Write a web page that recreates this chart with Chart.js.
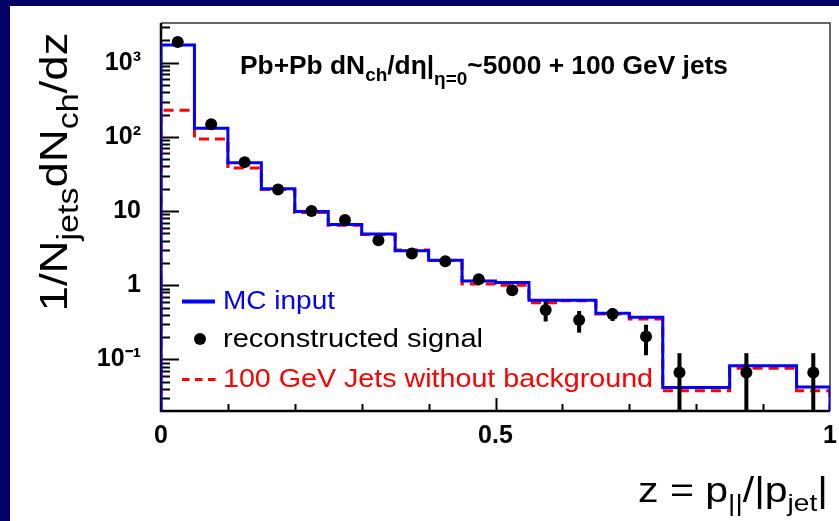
<!DOCTYPE html>
<html>
<head>
<meta charset="utf-8">
<script src="https://cdn.jsdelivr.net/npm/chart.js@4.4.1/dist/chart.umd.min.js"></script>
<style>
  html, body { margin: 0; padding: 0; background: #ffffff; }
  #wrap { width: 839px; height: 521px; }
</style>
</head>
<body>
<div id="wrap"><canvas id="c" width="839" height="521"></canvas></div>
<script>
// ---------------- data ----------------
const binEdges = [0, 0.05, 0.1, 0.15, 0.2, 0.25, 0.3, 0.35, 0.4, 0.45, 0.5,
                  0.55, 0.6, 0.65, 0.7, 0.75, 0.8, 0.85, 0.9, 0.95, 1.0];
const mcInput = [1730, 131, 45, 20.0, 9.9, 6.6, 4.9, 2.91, 2.18, 1.14,
                 1.09, 0.63, 0.63, 0.42, 0.37, 0.042, 0.042, 0.082, 0.082, 0.0426];
const jetsNoBackground = [228, 94, 38, 19.5, 9.55, 6.45, 4.85, 3.0, 2.15, 1.04,
                          1.0, 0.58, 0.62, 0.41, 0.35, 0.038, 0.038, 0.076, 0.076, 0.038];
const recoZ = [0.025, 0.075, 0.125, 0.175, 0.225, 0.275, 0.325, 0.375, 0.425, 0.475,
               0.525, 0.575, 0.625, 0.675, 0.725, 0.775, 0.875, 0.975];
const recoValues = [1900, 148, 45.7, 19.6, 10.0, 7.6, 4.05, 2.69, 2.11, 1.21,
                    0.86, 0.465, 0.34, 0.41, 0.204, 0.0665, 0.0665, 0.0665];
const recoErrors = [40, 5, 1.5, 0.6, 0.3, 0.25, 0.15, 0.1, 0.08, 0.06,
                    0.1, 0.14, 0.11, 0.08, 0.09, 0.055, 0.055, 0.055];
const xTickValues = [0, 0.5, 1];
const yTickValues = [0.1, 1, 10, 100, 1000];
const yTickLabels = ['10\u207B\u00B9', '1', '10', '10\u00B2', '10\u00B3'];
const legendLabels = ['MC input', 'reconstructed signal', '100 GeV Jets without background'];

// ---------------- helpers ----------------
const FLOOR = 0.001;
function stepData(values) {
  const pts = [{x: binEdges[0], y: FLOOR}];
  values.forEach((v, i) => pts.push({x: binEdges[i], y: v}));
  pts.push({x: binEdges[binEdges.length - 1], y: values[values.length - 1]});
  pts.push({x: binEdges[binEdges.length - 1], y: FLOOR});
  return pts;
}
const FAM = "'Liberation Sans', Arial, Helvetica, sans-serif";
function drawRich(ctx, parts, cfg) {
  ctx.save();
  let w = 0;
  parts.forEach(p => {
    ctx.font = `${cfg.weight} ${p.sub ? cfg.subSize : cfg.size}px ${FAM}`;
    p.w = ctx.measureText(p.t).width;
    w += p.w;
  });
  const k = cfg.width ? cfg.width / w : 1;
  ctx.translate(cfg.x, cfg.y);
  if (cfg.rotate) ctx.rotate(cfg.rotate);
  ctx.scale(k, 1);
  let x0 = cfg.align === 'right' ? -w : (cfg.align === 'center' ? -w / 2 : 0);
  ctx.fillStyle = cfg.color;
  ctx.textBaseline = 'alphabetic';
  ctx.textAlign = 'left';
  parts.forEach(p => {
    ctx.font = `${cfg.weight} ${p.sub ? cfg.subSize : cfg.size}px ${FAM}`;
    ctx.fillText(p.t, x0, p.sub ? (p.drop !== undefined ? p.drop : cfg.subDrop) : 0);
    x0 += p.w;
  });
  ctx.restore();
}

const decor = {
  id: 'decor',
  beforeDraw(chart) {
    const ctx = chart.ctx;
    ctx.save();
    ctx.fillStyle = '#ffffff';
    ctx.fillRect(0, 0, chart.width, chart.height);
    ctx.fillStyle = '#000066';
    ctx.fillRect(0, 0, 10, chart.height);
    ctx.fillRect(0, 0, chart.width, 6);
    ctx.restore();
  },
  beforeDatasetsDraw(chart) {
    const ctx = chart.ctx, a = chart.chartArea;
    const xs = chart.scales.x, ys = chart.scales.y;
    ctx.save();
    // frame
    ctx.strokeStyle = '#333333';
    ctx.lineWidth = 1.5;
    ctx.beginPath();
    ctx.moveTo(a.left, a.top); ctx.lineTo(a.right, a.top); ctx.lineTo(a.right, a.bottom);
    ctx.stroke();
    ctx.strokeStyle = '#000000';
    ctx.lineWidth = 2.5;
    ctx.beginPath();
    ctx.moveTo(a.left, a.top); ctx.lineTo(a.left, a.bottom); ctx.lineTo(a.right, a.bottom);
    ctx.stroke();
    // y ticks (major + minor)
    ctx.lineWidth = 2;
    for (let d = -2; d <= 3; d++) {
      for (let m = 1; m <= 9; m++) {
        const v = m * Math.pow(10, d);
        if (v < ys.min || v > ys.max) continue;
        const y = Math.round(ys.getPixelForValue(v)) + 0.5;
        const len = m === 1 ? 18 : 9;
        ctx.beginPath(); ctx.moveTo(a.left, y); ctx.lineTo(a.left + len, y); ctx.stroke();
      }
    }
    // x ticks
    for (let i = 1; i <= 9; i++) {
      const v = i / 10;
      const x = Math.round(xs.getPixelForValue(v)) + 0.5;
      const len = i === 5 ? 13 : 7;
      ctx.beginPath(); ctx.moveTo(x, a.bottom); ctx.lineTo(x, a.bottom - len); ctx.stroke();
    }
    ctx.restore();
  },
  afterDatasetsDraw(chart) {
    const ctx = chart.ctx, a = chart.chartArea;
    const xs = chart.scales.x, ys = chart.scales.y;
    ctx.save();
    ctx.beginPath();
    ctx.rect(a.left, a.top, a.right - a.left, a.bottom - a.top);
    ctx.clip();
    ctx.strokeStyle = '#000000';
    ctx.lineWidth = 4;
    recoZ.forEach((z, i) => {
      const x = xs.getPixelForValue(z);
      const hi = recoValues[i] + recoErrors[i];
      const lo = recoValues[i] - recoErrors[i];
      const y1 = ys.getPixelForValue(hi);
      const y2 = lo > 0 ? ys.getPixelForValue(lo) : a.bottom + 5;
      ctx.beginPath(); ctx.moveTo(x, y1); ctx.lineTo(x, y2); ctx.stroke();
    });
    ctx.restore();
  },
  afterDraw(chart) {
    const ctx = chart.ctx;
    // title
    drawRich(ctx, [
      {t: 'Pb+Pb dN'}, {t: 'ch', sub: true, drop: 7}, {t: '/d\u03B7|'},
      {t: '\u03B7=0', sub: true, drop: 11}, {t: '~5000 + 100 GeV jets'}
    ], {x: 240, y: 74, size: 25, subSize: 18, subDrop: 8, weight: 'bold', color: '#000', width: 488, align: 'left'});
    // y title
    drawRich(ctx, [
      {t: '1/N'}, {t: 'jets', sub: true}, {t: 'dN'}, {t: 'ch', sub: true}, {t: '/dz'}
    ], {x: 67, y: 172, size: 39, subSize: 29, subDrop: 11, weight: 'normal', color: '#000', width: 279, align: 'center', rotate: -Math.PI / 2});
    // x title
    drawRich(ctx, [
      {t: 'z = p'}, {t: '||', sub: true}, {t: '/|p'}, {t: 'jet', sub: true}, {t: '|'}
    ], {x: 828, y: 502, size: 35, subSize: 24, subDrop: 9, weight: 'normal', color: '#000', width: 190, align: 'right'});
    // legend
    ctx.save();
    ctx.strokeStyle = '#0000ff'; ctx.lineWidth = 4;
    ctx.beginPath(); ctx.moveTo(182, 301.5); ctx.lineTo(215, 301.5); ctx.stroke();
    ctx.fillStyle = '#000';
    ctx.beginPath(); ctx.arc(200, 339, 6, 0, Math.PI * 2); ctx.fill();
    ctx.strokeStyle = '#ff0000'; ctx.lineWidth = 3; ctx.setLineDash([7.5, 5.5]);
    ctx.beginPath(); ctx.moveTo(182, 379.5); ctx.lineTo(217, 379.5); ctx.stroke();
    ctx.restore();
    drawRich(ctx, [{t: legendLabels[0]}], {x: 223, y: 309, size: 25, weight: 'normal', color: '#0000ff', width: 112, align: 'left'});
    drawRich(ctx, [{t: legendLabels[1]}], {x: 223, y: 347, size: 25, weight: 'normal', color: '#000000', width: 260, align: 'left'});
    drawRich(ctx, [{t: legendLabels[2]}], {x: 223, y: 387, size: 25, weight: 'normal', color: '#ff0000', width: 430, align: 'left'});
  }
};

const ctx = document.getElementById('c').getContext('2d');
new Chart(ctx, {
  type: 'line',
  data: {
    datasets: [
      {
        label: legendLabels[1],
        data: recoZ.map((z, i) => ({x: z, y: recoValues[i]})),
        showLine: false,
        pointRadius: 6,
        pointBackgroundColor: '#000000',
        pointBorderColor: '#000000',
        pointBorderWidth: 0,
        order: 0
      },
      {
        label: legendLabels[0],
        data: stepData(mcInput),
        stepped: 'before',
        borderColor: '#0000ff',
        borderWidth: 3,
        pointRadius: 0,
        fill: false,
        order: 1
      },
      {
        label: legendLabels[2],
        data: stepData(jetsNoBackground),
        stepped: 'before',
        borderColor: '#ff0000',
        borderWidth: 3,
        borderDash: [10, 6],
        pointRadius: 0,
        fill: false,
        order: 2
      }
    ]
  },
  options: {
    responsive: false,
    animation: false,
    devicePixelRatio: 1,
    layout: { padding: { left: 0, top: 23, right: 9, bottom: 0 } },
    plugins: { legend: { display: false }, tooltip: { enabled: false }, title: { display: false } },
    scales: {
      x: {
        type: 'linear', min: 0, max: 1,
        afterBuildTicks: s => { s.ticks = xTickValues.map(v => ({value: v})); },
        afterFit: s => { s.height = 110; s.paddingLeft = 0; s.paddingRight = 0; },
        grid: { display: false, drawTicks: false },
        border: { display: false },
        ticks: {
          padding: 10, color: '#000',
          font: { family: FAM, size: 25, weight: 'bold' },
          callback: v => String(v), maxRotation: 0, autoSkip: false
        }
      },
      y: {
        type: 'logarithmic', min: 0.0202, max: 3430,
        afterBuildTicks: s => { s.ticks = yTickValues.map(v => ({value: v})); },
        afterFit: s => { s.width = 161; s.paddingTop = 0; s.paddingBottom = 0; },
        grid: { display: false, drawTicks: false },
        border: { display: false },
        ticks: {
          padding: 20, color: '#000',
          font: { family: FAM, size: 25, weight: 'bold' },
          callback: v => { const i = yTickValues.indexOf(v); return i >= 0 ? yTickLabels[i] : ''; },
          autoSkip: false
        }
      }
    }
  },
  plugins: [decor]
});
</script>
</body>
</html>
